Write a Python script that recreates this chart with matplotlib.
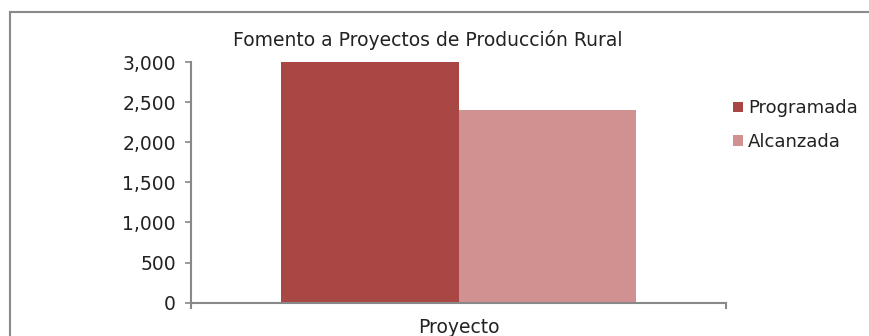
import matplotlib
matplotlib.use("Agg")
import matplotlib.pyplot as plt
from matplotlib.lines import Line2D
from matplotlib.patches import Patch

title = "Fomento a Proyectos de Producción Rural"
categories = ["Proyecto"]
series_names = ["Programada", "Alcanzada"]
programada = [3000]
alcanzada = [2400]
yticks = [0, 500, 1000, 1500, 2000, 2500, 3000]
colors = ["#A94744", "#D29191"]

plt.rcParams['font.family'] = ['DejaVu Sans']
W, H = 869, 336
fig = plt.figure(figsize=(W / 100, H / 100), dpi=100)
ax = fig.add_axes([191 / W, 1 - 302.7 / H, (726 - 191) / W, (302.7 - 62) / H])

bw = 0.332
x = list(range(len(categories)))
ax.bar([i - bw / 2 for i in x], programada, width=bw, color=colors[0], label=series_names[0], zorder=2)
ax.bar([i + bw / 2 for i in x], alcanzada, width=bw, color=colors[1], label=series_names[1], zorder=2)

ax.set_xlim(-0.5, len(categories) - 0.5)
ax.set_ylim(0, 3000)
ax.set_yticks(yticks)
ax.set_yticklabels([f"{v:,}" for v in yticks], fontsize=13.5, color="#222222")
ax.set_xticks(x)
ax.set_xticklabels(categories, fontsize=13.5, color="#222222")
ax.tick_params(axis='x', length=0, pad=11)
ax.tick_params(axis='y', length=4, width=1.2, color="#888888", pad=7)
for s in ["top", "right"]:
    ax.spines[s].set_visible(False)
for s in ["left", "bottom"]:
    ax.spines[s].set_color("#888888")
    ax.spines[s].set_linewidth(1.5)
    ax.spines[s].set_zorder(3)
# category boundary ticks on the x axis
for xb in [-0.5, len(categories) - 0.5]:
    ax.plot([xb, xb], [0, -0.02], transform=ax.get_xaxis_transform(), color="#888888",
            lw=1.5, clip_on=False, zorder=3)

fig.text(428 / W, 1 - 40 / H, title, ha="center", va="center", fontsize=13.5, color="#222222")

handles = [Patch(facecolor=colors[0]), Patch(facecolor=colors[1])]
fig.legend(handles, series_names, loc="center left", bbox_to_anchor=(733 / W, 1 - 125 / H),
           frameon=False, fontsize=13, handlelength=0.55, handleheight=0.55, handletextpad=0.3,
           labelspacing=0.85, borderpad=0, borderaxespad=0, labelcolor="#222222")

# outer chart border (partially cropped)
fig.add_artist(Line2D([9.5 / W, 9.5 / W], [0, 1 - 12 / H], color="#8a8a8a", lw=1.5))
fig.add_artist(Line2D([9.5 / W, 1], [1 - 12 / H, 1 - 12 / H], color="#8a8a8a", lw=1.5))

fig.savefig("out.png", dpi=100)
